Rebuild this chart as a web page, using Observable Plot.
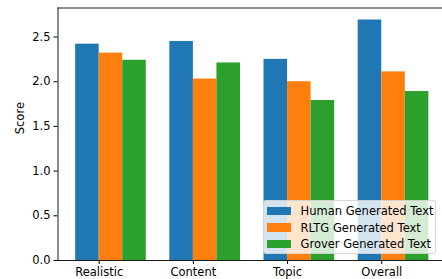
<!DOCTYPE html>
<html>
<head>
<meta charset="utf-8">
<script src="https://cdn.jsdelivr.net/npm/d3@7"></script>
<script src="https://cdn.jsdelivr.net/npm/@observablehq/plot@0.6"></script>
<style>
  html, body { margin: 0; padding: 0; background: #fff; }
  #wrap { position: relative; width: 442px; height: 279px; overflow: hidden; font-family: "DejaVu Sans", sans-serif; }
  #legend { position: absolute; left: 262.5px; top: 200px; width: 173px; height: 54px; box-sizing: border-box;
    background: rgba(255,255,255,0.8); border: 1px solid rgba(204,204,204,0.8); border-radius: 3px;
    font-size: 11.5px; color: #000; padding: 1.5px 0 0 3px; white-space: nowrap; }
  .row { display: flex; align-items: center; height: 16.7px; white-space: nowrap; }
  .sw { width: 24px; height: 8.5px; margin-right: 10px; flex: none; }
</style>
</head>
<body>
<div id="wrap"><div id="legend"></div></div>
<script>
const categories = ["Realistic", "Content", "Topic", "Overall"];
const seriesNames = ["Human Generated Text", "RLTG Generated Text", "Grover Generated Text"];
const human  = [2.42, 2.45, 2.25, 2.69];
const rltg   = [2.32, 2.03, 2.00, 2.11];
const grover = [2.24, 2.21, 1.79, 1.89];
const yTicks = [0, 0.5, 1.0, 1.5, 2.0, 2.5];
const colors = ["#1f77b4", "#ff7f0e", "#2ca02c"];

const barW = 0.25;
const seriesValues = [human, rltg, grover];
const rows = [];
seriesValues.forEach((vals, si) => vals.forEach((v, ci) => rows.push({ci, si, series: seriesNames[si], value: v})));

const xMin = -barW - 0.05 * (3 + 3 * barW);
const xMax = 3 + 2 * barW + 0.05 * (3 + 3 * barW);
const yMax = d3.max(rows, d => d.value) * 1.05;

const chart = Plot.plot({
  width: 442,
  height: 279,
  marginLeft: 57.5,
  marginRight: 0,
  marginTop: 7.5,
  marginBottom: 19,
  style: { fontFamily: "DejaVu Sans", fontSize: "11.5px", color: "#000", background: "transparent" },
  x: { type: "linear", domain: [xMin, xMax], range: [57.5, 446] },
  y: { domain: [0, yMax] },
  color: { domain: seriesNames, range: colors },
  marks: [
    Plot.rectY(rows, { x1: d => d.ci + (d.si - 1) * barW, x2: d => d.ci + d.si * barW, y1: 0, y2: "value", fill: "series", inset: 0 }),
    Plot.axisY({ ticks: yTicks, tickFormat: d3.format(".1f"), tickSize: 4, tickPadding: 3.5, fontSize: 11.5, label: null }),
    Plot.text(["Score"], { frameAnchor: "left", dx: -38, rotate: -90, fontSize: 11.5, text: d => d }),
    Plot.axisX({ ticks: [0, 1, 2, 3], tickFormat: i => categories[i], tickSize: 4, tickPadding: 3, fontSize: 11.5, label: null }),
    Plot.frame({ anchor: "left", strokeWidth: 0.9 }),
    Plot.frame({ anchor: "bottom", strokeWidth: 0.9 }),
    Plot.frame({ anchor: "top", strokeWidth: 0.9 })
  ]
});
document.getElementById("wrap").prepend(chart);
const leg = document.getElementById("legend");
seriesNames.forEach((name, i) => {
  const r = document.createElement("div"); r.className = "row";
  const s = document.createElement("div"); s.className = "sw"; s.style.background = colors[i];
  const t = document.createElement("span"); t.textContent = name;
  r.appendChild(s); r.appendChild(t); leg.appendChild(r);
});
</script>
</body>
</html>
